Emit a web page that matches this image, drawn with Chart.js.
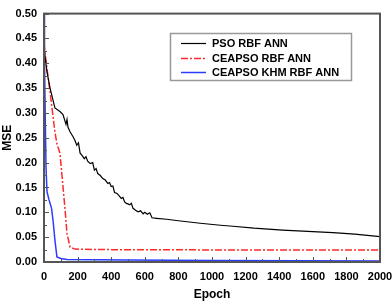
<!DOCTYPE html>
<html>
<head>
<meta charset="utf-8">
<script src="https://cdn.jsdelivr.net/npm/chart.js@4.4.1/dist/chart.umd.min.js"></script>
<style>
  html, body { margin: 0; padding: 0; background: #fff; }
  #wrap { width: 392px; height: 303px; }
</style>
</head>
<body>
<div id="wrap"><canvas id="myChart" width="392" height="303"></canvas></div>
<script>
// data
const psoEpochs = [0, 18, 36, 65, 95, 113, 131, 137, 143, 155, 173, 185, 195, 205, 215, 225, 240, 250, 260, 275, 290, 300, 310, 320, 335, 350, 365, 380, 390, 400, 410, 420, 435, 450, 460, 470, 480, 490, 500, 510, 520, 530, 545, 560, 575, 590, 600, 615, 630, 643, 670, 730, 800, 930, 1050, 1125, 1250, 1420, 1600, 1720, 1850, 2000];
const psoMse = [0.43, 0.382, 0.35, 0.31, 0.303, 0.297, 0.277, 0.287, 0.271, 0.262, 0.252, 0.244, 0.235, 0.24, 0.219, 0.215, 0.208, 0.212, 0.203, 0.198, 0.2, 0.185, 0.188, 0.178, 0.174, 0.168, 0.165, 0.158, 0.16, 0.152, 0.153, 0.14, 0.138, 0.132, 0.128, 0.13, 0.121, 0.118, 0.117, 0.115, 0.118, 0.108, 0.104, 0.101, 0.103, 0.097, 0.1, 0.096, 0.099, 0.089, 0.088, 0.086, 0.083, 0.078, 0.074, 0.072, 0.068, 0.064, 0.061, 0.059, 0.056, 0.051];

const ceapsoEpochs = [0, 10, 36, 65, 77, 95, 107, 125, 137, 155, 185, 300, 800, 1400, 2000];
const ceapsoMse = [0.44, 0.41, 0.342, 0.262, 0.238, 0.219, 0.174, 0.107, 0.057, 0.03, 0.026, 0.025, 0.0245, 0.024, 0.024];

const khmEpochs = [0, 3, 8, 12, 18, 30, 45, 55, 65, 77, 100, 137, 500, 1000, 2000];
const khmMse = [0.5, 0.4, 0.28, 0.19, 0.141, 0.125, 0.108, 0.08, 0.044, 0.01, 0.007, 0.005, 0.004, 0.003, 0.002];

const seriesNames = ["PSO RBF ANN", "CEAPSO RBF ANN", "CEAPSO KHM RBF ANN"];
const xTicks = [0, 200, 400, 600, 800, 1000, 1200, 1400, 1600, 1800, 2000];
const yTicks = [0, 0.05, 0.1, 0.15, 0.2, 0.25, 0.3, 0.35, 0.4, 0.45, 0.5];

const toPoints = (xs, ys) => xs.map((x, i) => ({ x: x, y: ys[i] }));
const FONT = "'Liberation Sans', Arial, sans-serif";

// frame, inward ticks and the boxed legend
const framePlugin = {
  id: "frame",
  afterDatasetsDraw(chart) {
    const { ctx, chartArea: a, scales } = chart;
    ctx.save();
    ctx.strokeStyle = "#555";
    ctx.lineWidth = 1;
    // x ticks (major every 200, minor every 100)
    for (let v = 0; v <= 2000; v += 100) {
      const px = Math.round(scales.x.getPixelForValue(v)) + 0.5;
      const len = v % 200 === 0 ? 5 : 3;
      ctx.beginPath();
      ctx.moveTo(px, a.bottom);
      ctx.lineTo(px, a.bottom - len);
      ctx.stroke();
    }
    // y ticks (major every 0.05, minor every 0.025)
    for (let i = 0; i <= 20; i++) {
      const py = Math.round(scales.y.getPixelForValue(i * 0.025)) + 0.5;
      const len = i % 2 === 0 ? 5 : 3;
      ctx.beginPath();
      ctx.moveTo(a.left, py);
      ctx.lineTo(a.left + len, py);
      ctx.stroke();
    }
    ctx.lineWidth = 2;
    ctx.strokeRect(a.left, a.top, a.right - a.left, a.bottom - a.top);

    // legend
    ctx.fillStyle = "#fff";
    ctx.fillRect(170.5, 33.5, 181, 47);
    ctx.strokeStyle = "#999";
    ctx.lineWidth = 1.5;
    ctx.strokeRect(170.5, 33.5, 181, 47);
    const rows = [43, 58, 72];
    chart.data.datasets.forEach((ds, i) => {
      ctx.strokeStyle = ds.borderColor;
      ctx.lineWidth = ds.borderWidth;
      ctx.setLineDash(ds.borderDash || []);
      ctx.beginPath();
      ctx.moveTo(181, rows[i] + 0.5);
      ctx.lineTo(206, rows[i] + 0.5);
      ctx.stroke();
      ctx.setLineDash([]);
      ctx.fillStyle = "#000";
      ctx.font = "bold 11px " + FONT;
      ctx.textBaseline = "middle";
      ctx.fillText(ds.label, 212, rows[i] + 1);
    });
    ctx.restore();
  }
};

const ctx = document.getElementById("myChart").getContext("2d");
const myChart = new Chart(ctx, {
  type: "line",
  data: {
    datasets: [
      {
        label: seriesNames[0],
        data: toPoints(psoEpochs, psoMse),
        borderColor: "#000000",
        borderWidth: 1.2,
        pointRadius: 0,
        tension: 0
      },
      {
        label: seriesNames[1],
        data: toPoints(ceapsoEpochs, ceapsoMse),
        borderColor: "#ff2a2a",
        borderWidth: 1.5,
        borderDash: [7, 2, 2, 2],
        pointRadius: 0,
        tension: 0
      },
      {
        label: seriesNames[2],
        data: toPoints(khmEpochs, khmMse),
        borderColor: "#2a3cff",
        borderWidth: 1.5,
        pointRadius: 0,
        tension: 0
      }
    ]
  },
  options: {
    responsive: false,
    animation: false,
    devicePixelRatio: 1,
    layout: { padding: { top: 6, right: 0, left: 0, bottom: 0 } },
    plugins: {
      legend: { display: false },
      tooltip: { enabled: false }
    },
    scales: {
      x: {
        type: "linear",
        min: 0,
        max: 2000,
        grid: { display: false, drawTicks: false },
        border: { display: false },
        afterBuildTicks: (s) => { s.ticks = xTicks.map(v => ({ value: v })); },
        ticks: {
          color: "#000",
          padding: 8,
          maxRotation: 0,
          font: { family: FONT, weight: "bold", size: 11 },
          callback: (v) => String(v)
        },
        title: {
          display: true,
          text: "Epoch",
          color: "#000",
          padding: { top: 0, bottom: 1 },
          font: { family: FONT, weight: "bold", size: 12 }
        },
        afterFit: (s) => { s.height = 41; s.paddingRight = 12; }
      },
      y: {
        min: 0,
        max: 0.5,
        grid: { display: false, drawTicks: false },
        border: { display: false },
        afterBuildTicks: (s) => { s.ticks = yTicks.map(v => ({ value: v })); },
        ticks: {
          color: "#000",
          padding: 7,
          font: { family: FONT, weight: "bold", size: 11 },
          callback: (v) => Number(v).toFixed(2)
        },
        title: {
          display: true,
          text: "MSE",
          color: "#000",
          padding: { top: 0, bottom: 0 },
          font: { family: FONT, weight: "bold", size: 12 }
        },
        afterFit: (s) => { s.width = 44; }
      }
    }
  },
  plugins: [framePlugin]
});
</script>
</body>
</html>
